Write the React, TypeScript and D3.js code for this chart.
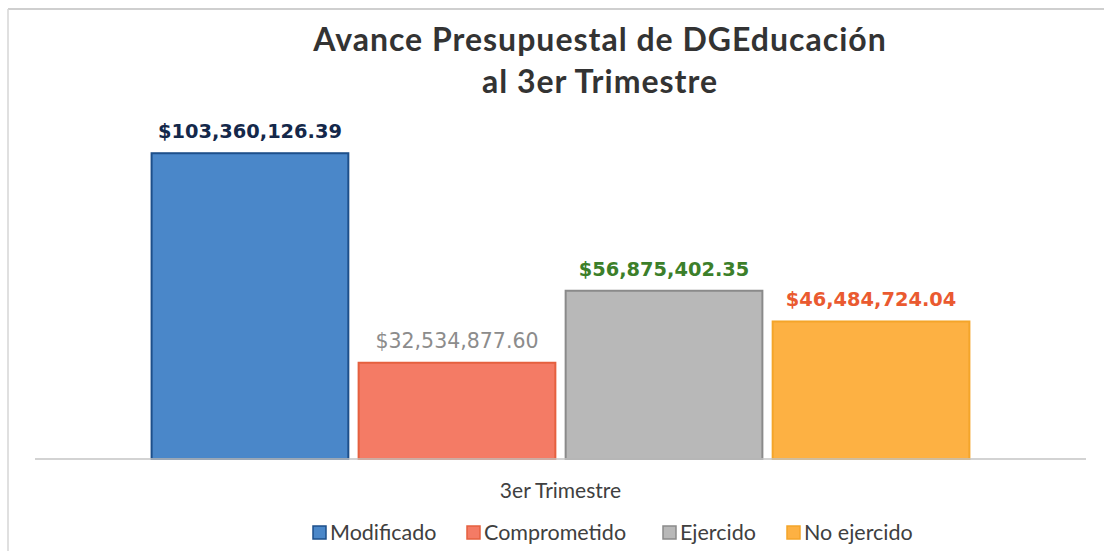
import React from "react";
import * as d3 from "d3";

const categories = ["3er Trimestre"];
const series = ["Modificado", "Comprometido", "Ejercido", "No ejercido"];
const values = [103360126.39, 32534877.6, 56875402.35, 46484724.04];
const labels = ["$103,360,126.39", "$32,534,877.60", "$56,875,402.35", "$46,484,724.04"];
const yDomain = [0, 120000000];

const fills = ["#4a87c9", "#f47b65", "#b8b8b8", "#fdb143"];
const strokes = ["#1d4f8a", "#e5603f", "#8a8a8a", "#f4a52a"];
const labelColors = ["#14284a", "#8c8c8c", "#3c7f2a", "#ea5a30"];
const labelWeights = [700, 400, 700, 700];

export default function App() {
  const W = 1104, H = 551;
  const left = 35, right = 1086, top = 104, bottom = 459;
  const x0 = d3.scaleBand<string>().domain(categories).range([left, right]).paddingInner(0).paddingOuter(0.141);
  const bw = x0.bandwidth();
  const x1 = d3.scaleBand<string>().domain(series).range([0, bw]).paddingInner(0.04);
  const y = d3.scaleLinear().domain(yDomain).range([bottom, top]);

  const font = "Lato, 'Open Sans', sans-serif";
  const legendX = [313, 467, 663, 787];

  return (
    <svg width={W} height={H} style={{ position: "absolute", left: 0, top: 0, background: "#fff" }}>
      <rect x={0} y={0} width={W} height={H} fill="#ffffff" />
      <line x1={8} y1={9} x2={W} y2={9} stroke="#cfcfcf" strokeWidth={2} />
      <line x1={8} y1={9} x2={8} y2={H} stroke="#d6d6d6" strokeWidth={1.5} />
      <text x={600} y={51} textAnchor="middle" fontFamily={font} fontWeight={700} fontSize={32} letterSpacing={1} fill="#333333">
        Avance Presupuestal de DGEducación
      </text>
      <text x={600} y={93} textAnchor="middle" fontFamily={font} fontWeight={700} fontSize={32} letterSpacing={1} fill="#333333">
        al 3er Trimestre
      </text>
      {categories.map((c) => (
        <g key={c} transform={`translate(${x0(c)},0)`}>
          {series.map((s, i) => (
            <g key={s}>
              <rect
                x={x1(s)! + 1}
                y={y(values[i])}
                width={x1.bandwidth() - 2}
                height={bottom - y(values[i])}
                fill={fills[i]}
                stroke={strokes[i]}
                strokeWidth={2}
              />
              <text
                x={x1(s)! + x1.bandwidth() / 2}
                y={y(values[i]) - 15}
                textAnchor="middle"
                fontFamily="'DejaVu Sans', Verdana, sans-serif"
                fontWeight={labelWeights[i]}
                fontSize={labelWeights[i] === 700 ? 19.4 : 20.5}
                fill={labelColors[i]}
              >
                {labels[i]}
              </text>
            </g>
          ))}
          <text x={bw / 2} y={498} textAnchor="middle" fontFamily={font} fontSize={21} fill="#404040">
            {c}
          </text>
        </g>
      ))}
      <line x1={left} y1={bottom} x2={right} y2={bottom} stroke="#c4c4c4" strokeWidth={1.5} />
      {series.map((s, i) => (
        <g key={s} transform={`translate(${legendX[i]},0)`}>
          <rect x={0} y={526} width={13} height={13} fill={fills[i]} stroke={strokes[i]} strokeWidth={1.5} />
          <text x={17} y={539.5} fontFamily={font} fontSize={21.5} fill="#404040">
            {s}
          </text>
        </g>
      ))}
    </svg>
  );
}
